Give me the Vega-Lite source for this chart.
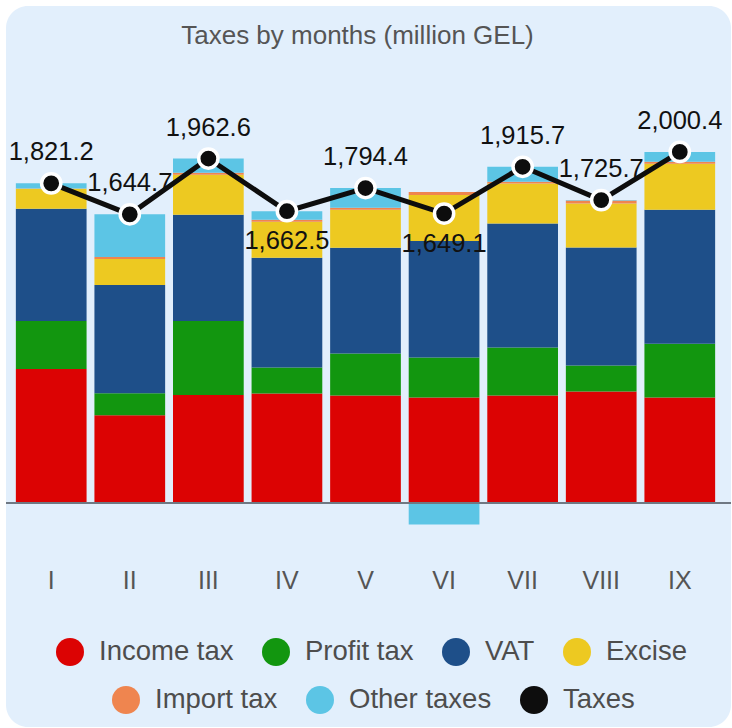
{
  "$schema": "https://vega.github.io/schema/vega-lite/v6.json",
  "width": 725,
  "height": 721,
  "padding": {"left": 6, "top": 6, "right": 0, "bottom": 0},
  "autosize": {"type": "none"},
  "background": "white",
  "title": {
    "text": "Taxes by months (million GEL)",
    "fontSize": 26,
    "font": "Liberation Sans",
    "fontWeight": "normal",
    "color": "#555555",
    "anchor": "middle",
    "baseline": "alphabetic",
    "offset": -64,
    "dx": -11
  },
  "datasets": {
    "parts": [
      {"m": "I", "tax": "Income tax", "k": 1, "v": 763},
      {"m": "I", "tax": "Profit tax", "k": 2, "v": 274},
      {"m": "I", "tax": "VAT", "k": 3, "v": 639},
      {"m": "I", "tax": "Excise", "k": 4, "v": 114},
      {"m": "I", "tax": "Import tax", "k": 5, "v": 2},
      {"m": "I", "tax": "Other taxes", "k": 6, "v": 29.2},
      {"m": "II", "tax": "Income tax", "k": 1, "v": 500},
      {"m": "II", "tax": "Profit tax", "k": 2, "v": 126},
      {"m": "II", "tax": "VAT", "k": 3, "v": 616},
      {"m": "II", "tax": "Excise", "k": 4, "v": 148},
      {"m": "II", "tax": "Import tax", "k": 5, "v": 11},
      {"m": "II", "tax": "Other taxes", "k": 6, "v": 243.7},
      {"m": "III", "tax": "Income tax", "k": 1, "v": 615},
      {"m": "III", "tax": "Profit tax", "k": 2, "v": 422},
      {"m": "III", "tax": "VAT", "k": 3, "v": 605},
      {"m": "III", "tax": "Excise", "k": 4, "v": 228},
      {"m": "III", "tax": "Import tax", "k": 5, "v": 11},
      {"m": "III", "tax": "Other taxes", "k": 6, "v": 81.6},
      {"m": "IV", "tax": "Income tax", "k": 1, "v": 624},
      {"m": "IV", "tax": "Profit tax", "k": 2, "v": 148},
      {"m": "IV", "tax": "VAT", "k": 3, "v": 626},
      {"m": "IV", "tax": "Excise", "k": 4, "v": 205},
      {"m": "IV", "tax": "Import tax", "k": 5, "v": 11},
      {"m": "IV", "tax": "Other taxes", "k": 6, "v": 48.5},
      {"m": "V", "tax": "Income tax", "k": 1, "v": 613},
      {"m": "V", "tax": "Profit tax", "k": 2, "v": 239},
      {"m": "V", "tax": "VAT", "k": 3, "v": 603},
      {"m": "V", "tax": "Excise", "k": 4, "v": 216},
      {"m": "V", "tax": "Import tax", "k": 5, "v": 11},
      {"m": "V", "tax": "Other taxes", "k": 6, "v": 112.4},
      {"m": "VI", "tax": "Income tax", "k": 1, "v": 601},
      {"m": "VI", "tax": "Profit tax", "k": 2, "v": 228},
      {"m": "VI", "tax": "VAT", "k": 3, "v": 664},
      {"m": "VI", "tax": "Excise", "k": 4, "v": 262},
      {"m": "VI", "tax": "Import tax", "k": 5, "v": 17},
      {"m": "VI", "tax": "Other taxes", "k": 6, "v": -122.9},
      {"m": "VII", "tax": "Income tax", "k": 1, "v": 613},
      {"m": "VII", "tax": "Profit tax", "k": 2, "v": 273},
      {"m": "VII", "tax": "VAT", "k": 3, "v": 706},
      {"m": "VII", "tax": "Excise", "k": 4, "v": 228},
      {"m": "VII", "tax": "Import tax", "k": 5, "v": 11},
      {"m": "VII", "tax": "Other taxes", "k": 6, "v": 84.7},
      {"m": "VIII", "tax": "Income tax", "k": 1, "v": 636},
      {"m": "VIII", "tax": "Profit tax", "k": 2, "v": 148},
      {"m": "VIII", "tax": "VAT", "k": 3, "v": 672},
      {"m": "VIII", "tax": "Excise", "k": 4, "v": 250},
      {"m": "VIII", "tax": "Import tax", "k": 5, "v": 17},
      {"m": "VIII", "tax": "Other taxes", "k": 6, "v": 2.7},
      {"m": "IX", "tax": "Income tax", "k": 1, "v": 601},
      {"m": "IX", "tax": "Profit tax", "k": 2, "v": 307},
      {"m": "IX", "tax": "VAT", "k": 3, "v": 763},
      {"m": "IX", "tax": "Excise", "k": 4, "v": 262},
      {"m": "IX", "tax": "Import tax", "k": 5, "v": 11},
      {"m": "IX", "tax": "Other taxes", "k": 6, "v": 56.4}
    ],
    "totals": [
      {"m": "I", "s": "Taxes", "total": 1821.2},
      {"m": "II", "s": "Taxes", "total": 1644.7},
      {"m": "III", "s": "Taxes", "total": 1962.6},
      {"m": "IV", "s": "Taxes", "total": 1662.5},
      {"m": "V", "s": "Taxes", "total": 1794.4},
      {"m": "VI", "s": "Taxes", "total": 1649.1},
      {"m": "VII", "s": "Taxes", "total": 1915.7},
      {"m": "VIII", "s": "Taxes", "total": 1725.7},
      {"m": "IX", "s": "Taxes", "total": 2000.4}
    ]
  },
  "layer": [
    {
      "data": {"name": "parts"},
      "mark": {"type": "bar"},
      "encoding": {
        "x": {
          "field": "m",
          "type": "ordinal",
          "scale": {
            "domain": ["I", "II", "III", "IV", "V", "VI", "VII", "VIII", "IX"],
            "range": [2, 717],
            "paddingInner": 0.1,
            "paddingOuter": 0.1
          },
          "axis": {
            "title": null,
            "domain": false,
            "ticks": false,
            "tickSize": 0,
            "grid": false,
            "labelAngle": 0,
            "labelFont": "Liberation Sans",
            "labelFontSize": 25,
            "labelColor": "#555555",
            "labelPadding": 0,
            "labelBaseline": "top",
            "offset": -159
          }
        },
        "y": {
          "field": "v",
          "type": "quantitative",
          "stack": "zero",
          "scale": {"domain": [-300, 2500], "range": [549.7, 58.2], "nice": false, "zero": false},
          "axis": null
        },
        "color": {
          "field": "tax",
          "type": "nominal",
          "scale": {
            "domain": ["Income tax", "Profit tax", "VAT", "Excise", "Import tax", "Other taxes"],
            "range": ["#dc0303", "#12960f", "#1e4f89", "#edc921", "#ef854f", "#5cc5e5"]
          },
          "legend": {
            "values": ["Income tax", "Profit tax", "VAT", "Excise"],
            "orient": "none",
            "legendX": 50,
            "legendY": 632,
            "direction": "horizontal",
            "columns": 4,
            "title": null,
            "padding": 0,
            "symbolType": "circle",
            "symbolSize": 784,
            "symbolStrokeWidth": 0,
            "symbolOpacity": 1,
            "labelFont": "Liberation Sans",
            "labelFontSize": 27.5,
            "labelColor": "#4d4d4d",
            "labelOffset": 15,
            "columnPadding": 28
          }
        },
        "order": {"field": "k", "type": "quantitative", "sort": "ascending"}
      }
    },
    {
      "data": {"values": [{"z": 0}]},
      "mark": {"type": "rule", "color": "#6f7883", "strokeWidth": 2},
      "encoding": {"y": {"field": "z", "type": "quantitative"}}
    },
    {
      "data": {"name": "totals"},
      "transform": [{"filter": "datum.m !== 'IV' && datum.m !== 'VI'"}],
      "mark": {"type": "text", "font": "Liberation Sans", "fontSize": 25.5, "color": "#111111", "baseline": "middle", "dy": -31},
      "encoding": {
        "x": {"field": "m", "type": "ordinal"},
        "y": {"field": "total", "type": "quantitative"},
        "text": {"field": "total", "type": "quantitative", "format": ",.1f"}
      }
    },
    {
      "data": {"name": "totals"},
      "transform": [{"filter": "datum.m === 'IV' || datum.m === 'VI'"}],
      "mark": {"type": "text", "font": "Liberation Sans", "fontSize": 25.5, "color": "#111111", "baseline": "middle", "dy": 30},
      "encoding": {
        "x": {"field": "m", "type": "ordinal"},
        "y": {"field": "total", "type": "quantitative"},
        "text": {"field": "total", "type": "quantitative", "format": ",.1f"}
      }
    },
    {
      "data": {"name": "totals"},
      "mark": {"type": "line", "color": "#0d0d0d", "strokeWidth": 5},
      "encoding": {
        "x": {"field": "m", "type": "ordinal"},
        "y": {"field": "total", "type": "quantitative"}
      }
    },
    {
      "data": {"name": "totals"},
      "mark": {"type": "point", "shape": "circle", "filled": true, "size": 370, "stroke": "white", "strokeWidth": 3.5, "opacity": 1},
      "encoding": {
        "x": {"field": "m", "type": "ordinal"},
        "y": {"field": "total", "type": "quantitative"},
        "fill": {
          "field": "s",
          "type": "nominal",
          "scale": {
            "domain": ["Import tax", "Other taxes", "Taxes"],
            "range": ["#ef854f", "#5cc5e5", "#0d0d0d"]
          },
          "legend": {
            "orient": "none",
            "legendX": 106,
            "legendY": 680,
            "direction": "horizontal",
            "columns": 3,
            "title": null,
            "padding": 0,
            "symbolType": "circle",
            "symbolSize": 784,
            "symbolStrokeWidth": 0,
            "symbolStrokeColor": "transparent",
            "symbolOpacity": 1,
            "labelFont": "Liberation Sans",
            "labelFontSize": 27.5,
            "labelColor": "#4d4d4d",
            "labelOffset": 15,
            "columnPadding": 28
          }
        }
      }
    }
  ],
  "config": {
    "view": {"stroke": null, "fill": "#e2effc", "cornerRadius": 22}
  }
}
